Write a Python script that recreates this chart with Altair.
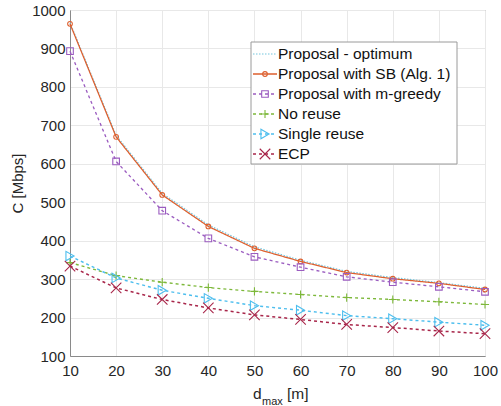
import altair as alt
import pandas as pd

x_vals = [10, 20, 30, 40, 50, 60, 70, 80, 90, 100]
series_names = ["Proposal - optimum", "Proposal with SB (Alg. 1)", "Proposal with m-greedy",
                "No reuse", "Single reuse", "ECP"]
opt = [967, 674, 523, 441, 384, 349, 320, 304, 291, 276]
sb = [964, 670, 519, 437, 380, 346, 317, 301, 289, 273]
mgreedy = [893, 606, 478, 406, 358, 331, 306, 292, 280, 267]
noreuse = [343, 309, 292, 278, 268, 260, 252, 247, 241, 234]
single = [360, 303, 271, 250, 231, 219, 205, 197, 188, 180]
ecp = [334, 277, 247, 225, 207, 195, 182, 174, 165, 158]
all_series = [opt, sb, mgreedy, noreuse, single, ecp]
y_ticks = [100, 200, 300, 400, 500, 600, 700, 800, 900, 1000]

colors = ["#74C6DE", "#DD5F2E", "#9B5CC0", "#7DB83A", "#4DBEEE", "#A8264A"]
dashes = [[1.5, 1.5], [1, 0], [3, 3], [3, 3], [3, 3], [3, 3]]
widths = [1.2, 1.5, 1.2, 1.2, 1.2, 1.2]
shapes = ["circle", "circle", "square", "M-1,0H1M0,-1V1", "triangle-right", "M-1,-1L1,1M-1,1L1,-1"]
sizes = [0, 110, 50, 40, 105, 14]

rows = []
for name, vals in zip(series_names, all_series):
    for xv, yv in zip(x_vals, vals):
        rows.append({"series": name, "d": xv, "C": yv})
df = pd.DataFrame(rows)

leg = pd.DataFrame({"series": series_names, "row": list(range(len(series_names)))})

font = "Liberation Sans"
col = alt.Color("series:N", scale=alt.Scale(domain=series_names, range=colors), legend=None)
dash = alt.StrokeDash("series:N", scale=alt.Scale(domain=series_names, range=dashes), legend=None)
sw = alt.StrokeWidth("series:N", scale=alt.Scale(domain=series_names, range=widths), legend=None)
shp = alt.Shape("series:N", scale=alt.Scale(domain=series_names, range=shapes), legend=None)
sz = alt.Size("series:N", scale=alt.Scale(domain=series_names, range=sizes), legend=None)

xenc = alt.X("d:Q", scale=alt.Scale(domain=[10, 100], nice=False),
             axis=alt.Axis(values=x_vals, title=None, labelPadding=7, format="d"))
yenc = alt.Y("C:Q", scale=alt.Scale(domain=[100, 1000], nice=False),
             axis=alt.Axis(values=y_ticks, title="C [Mbps]", titlePadding=6, labelPadding=5, format="d"))

base = alt.Chart(df)
lines = base.mark_line().encode(x=xenc, y=yenc, color=col, strokeDash=dash, strokeWidth=sw,
                                order=alt.Order("series:N"))
pts = base.transform_filter(alt.datum.series != series_names[0]).mark_point(
    filled=False, strokeWidth=1.1, opacity=1).encode(x=xenc, y=yenc, color=col, shape=shp, size=sz)

main = alt.layer(lines, pts)

# Manual legend
lb = alt.Chart(leg).transform_calculate(py="44 + 20 * datum.row")
box = alt.Chart(pd.DataFrame({"k": [0]})).mark_rect(fill="white", stroke="#9a9a9a", strokeWidth=1).encode(
    x=alt.value(181), x2=alt.value(387), y=alt.value(32), y2=alt.value(154))
leg_lines = lb.mark_rule().encode(
    x=alt.value(183), x2=alt.value(207),
    y=alt.Y("py:Q", scale=None, axis=None),
    color=col, strokeDash=dash, strokeWidth=sw)
leg_pts = lb.transform_filter(alt.datum.row > 0).mark_point(filled=False, strokeWidth=1.1, opacity=1).encode(
    x=alt.value(195), y=alt.Y("py:Q", scale=None, axis=None), color=col, shape=shp,
    size=alt.Size("series:N", scale=alt.Scale(domain=series_names, range=[0, 80, 38, 32, 75, 11]), legend=None))
leg_text = lb.mark_text(align="left", baseline="middle", font=font, fontSize=15.5, color="#111111").encode(
    x=alt.value(208), y=alt.Y("py:Q", scale=None, axis=None), text="series:N")

tdf = pd.DataFrame({"t": ["d"]})
t_d = alt.Chart(tdf).mark_text(align="left", baseline="alphabetic", font=font, fontSize=15.5,
                               color="#262626", text="d").encode(x=alt.value(183), y=alt.value(389))
t_max = alt.Chart(tdf).mark_text(align="left", baseline="alphabetic", font=font, fontSize=11,
                                 color="#262626", text="max").encode(x=alt.value(192), y=alt.value(395))
t_m = alt.Chart(tdf).mark_text(align="left", baseline="alphabetic", font=font, fontSize=15.5,
                               color="#262626", text="[m]").encode(x=alt.value(217), y=alt.value(389))

chart = alt.layer(main, box, leg_lines, leg_pts, leg_text, t_d, t_max, t_m).resolve_scale(
    y="independent", x="independent"
).properties(
    width=415, height=346, autosize="none",
    padding={"left": 70, "top": 10, "right": 16, "bottom": 50},
    background="white"
).configure_view(stroke="#8a8a8a", strokeWidth=1).configure_axis(
    labelFontSize=15, labelFont=font, labelColor="#262626",
    labelFlush=False, labelOverlap=False, labelBound=False,
    titleFontSize=15, titleFont=font, titleFontWeight="normal", titleColor="#262626",
    ticks=False, gridColor="#e8e8e8", domainColor="#8a8a8a"
)

chart.save("out.html", embed_options={"renderer": "svg", "actions": False})
